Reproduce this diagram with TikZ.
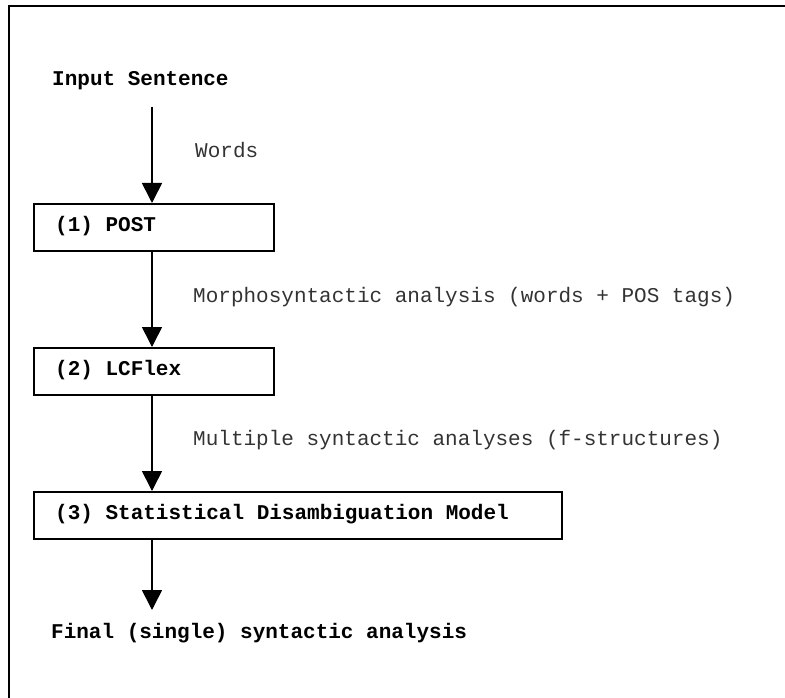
\documentclass[tikz,border=0pt]{standalone}
\usepackage{fontspec}
\setmonofont{Liberation Mono}
\usetikzlibrary{arrows.meta}
\begin{document}
\begin{tikzpicture}[x=1pt,y=-1pt,
  frame/.style={line width=2pt},
  arr/.style={line width=1.6pt,-{Triangle[width=20pt,length=20pt]}},
  box/.style={draw,line width=1.6pt,minimum height=47pt,inner sep=0pt,anchor=north west},
  head/.style={inner sep=0pt,anchor=base west,font=\ttfamily\bfseries\fontsize{21}{25}\selectfont},
  note/.style={inner sep=0pt,anchor=base west,text=black!80,font=\ttfamily\fontsize{21}{25}\selectfont}]
\useasboundingbox (0,0) rectangle (785,698);
\draw[frame] (9,698) -- (9,6) -- (785,6);

\node[head] (in) at (52,86) {Input Sentence};
\node[box,minimum width=240pt] (b1) at (33,203) {};
\node[box,minimum width=240pt] (b2) at (33,347) {};
\node[box,minimum width=528pt] (b3) at (33,491) {};
\node[head] (t1) at (55,231) {(1) POST};
\node[head] (t2) at (55,375) {(2) LCFlex};
\node[head] (t3) at (55,519) {(3) Statistical Disambiguation Model};
\node[head] (out) at (51,638) {Final (single) syntactic analysis};

\node[note] (l1) at (195,158) {Words};
\node[note] (l2) at (193,302) {Morphosyntactic analysis (words + POS tags)};
\node[note] (l3) at (193,445) {Multiple syntactic analyses (f-structures)};

\coordinate (s0) at (152,107);
\coordinate (e4) at (152,610);
\draw[arr] (s0) -- (s0 |- b1.north);
\draw[arr] (s0 |- b1.south) -- (s0 |- b2.north);
\draw[arr] (s0 |- b2.south) -- (s0 |- b3.north);
\draw[arr] (s0 |- b3.south) -- (e4);
\end{tikzpicture}
\end{document}
